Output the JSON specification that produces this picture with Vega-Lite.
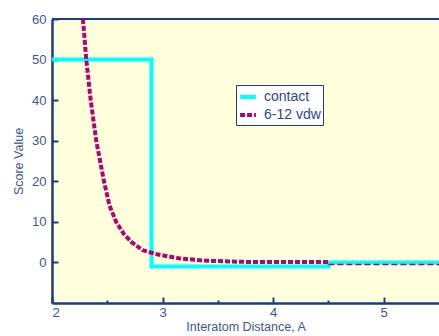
{
  "$schema": "https://vega.github.io/schema/vega-lite/v6.json",
  "autosize": "none",
  "width": 387,
  "height": 284,
  "padding": {"left": 52, "top": 19, "right": 0, "bottom": 33},
  "background": "white",
  "config": {
    "font": "Liberation Sans",
    "view": {"fill": "#ffffdc", "stroke": null},
    "axis": {"domainColor": "#1a3a8f", "domainWidth": 2.5, "tickColor": "#1a3a8f", "tickWidth": 2, "labelColor": "#3a55a5", "titleColor": "#3a55a5", "labelFont": "Liberation Sans", "titleFont": "Liberation Sans", "grid": false, "titleFontWeight": "normal"}
  },
  "datasets": {
    "contact": [
      {"series": "contact", "x": 2.0, "y": 50, "o": 1},
      {"series": "contact", "x": 2.9, "y": 50, "o": 2},
      {"series": "contact", "x": 2.9, "y": -1, "o": 3},
      {"series": "contact", "x": 4.5, "y": -1, "o": 4},
      {"series": "contact", "x": 4.5, "y": 0, "o": 5},
      {"series": "contact", "x": 5.6, "y": 0, "o": 6}
    ],
    "vdw": [
      {"series": "6-12 vdw", "x": 2.28, "y": 60, "o": 1},
      {"series": "6-12 vdw", "x": 2.31, "y": 50, "o": 2},
      {"series": "6-12 vdw", "x": 2.35, "y": 40, "o": 3},
      {"series": "6-12 vdw", "x": 2.40, "y": 30, "o": 4},
      {"series": "6-12 vdw", "x": 2.47, "y": 20, "o": 5},
      {"series": "6-12 vdw", "x": 2.52, "y": 14, "o": 6},
      {"series": "6-12 vdw", "x": 2.58, "y": 10, "o": 7},
      {"series": "6-12 vdw", "x": 2.65, "y": 7, "o": 8},
      {"series": "6-12 vdw", "x": 2.72, "y": 5, "o": 9},
      {"series": "6-12 vdw", "x": 2.82, "y": 3, "o": 10},
      {"series": "6-12 vdw", "x": 2.95, "y": 2, "o": 11},
      {"series": "6-12 vdw", "x": 3.15, "y": 1, "o": 12},
      {"series": "6-12 vdw", "x": 3.4, "y": 0.4, "o": 13},
      {"series": "6-12 vdw", "x": 3.8, "y": 0.1, "o": 14},
      {"series": "6-12 vdw", "x": 4.5, "y": 0.1, "o": 15}
    ],
    "tail": [
      {"x": 4.5, "y": -0.5, "o": 1},
      {"x": 5.6, "y": -0.5, "o": 2}
    ],
    "top": [{"y": 60}]
  },
  "layer": [
    {
      "data": {"name": "contact"},
      "mark": {"type": "line", "strokeWidth": 4, "clip": true},
      "encoding": {
        "x": {"field": "x", "type": "quantitative", "scale": {"domain": [2, 5.5], "nice": false, "zero": false},
          "axis": {"values": [2, 2.5, 3, 3.5, 4, 4.5, 5], "labelExpr": "datum.value % 1 == 0 ? format(datum.value, 'd') : ''", "tickSize": {"condition": {"test": "datum.value % 1 != 0", "value": -3}, "value": -6}, "labelPadding": 9, "labelFontSize": 13, "title": "Interatom Distance, A", "titleFontSize": 12.5, "titlePadding": 1}},
        "y": {"field": "y", "type": "quantitative", "scale": {"domain": [-10, 60], "nice": false, "zero": false},
          "axis": {"values": [0, 10, 20, 30, 40, 50, 60], "tickSize": -6, "labelPadding": 12, "labelFontSize": 13, "title": "Score Value", "titleFontSize": 12.5, "titlePadding": 6}},
        "order": {"field": "o", "type": "quantitative"},
        "color": {"field": "series", "type": "nominal", "scale": {"domain": ["contact", "6-12 vdw"], "range": ["#00ffff", "#b8006e"]},
          "legend": {"title": null, "orient": "none", "legendX": 184, "legendY": 66, "fillColor": "white", "strokeColor": "#1a3a8f", "padding": 2, "labelColor": "#2a45a0", "labelFontSize": 14, "symbolType": "stroke", "symbolStrokeWidth": 4, "symbolSize": 250, "rowPadding": -4, "labelOffset": 6}},
        "strokeDash": {"field": "series", "type": "nominal", "scale": {"domain": ["contact", "6-12 vdw"], "range": [[1, 0], [5, 2]]}, "legend": null}
      }
    },
    {
      "data": {"name": "top"},
      "mark": {"type": "rule", "color": "#1a3a8f", "strokeWidth": 2},
      "encoding": {"y": {"field": "y", "type": "quantitative"}}
    },
    {
      "data": {"name": "tail"},
      "mark": {"type": "line", "strokeWidth": 1.5, "color": "#b8006e", "strokeDash": [6, 3], "clip": true},
      "encoding": {
        "x": {"field": "x", "type": "quantitative"},
        "y": {"field": "y", "type": "quantitative"},
        "order": {"field": "o", "type": "quantitative"}
      }
    },
    {
      "data": {"name": "vdw"},
      "mark": {"type": "line", "strokeWidth": 4, "clip": true},
      "encoding": {
        "x": {"field": "x", "type": "quantitative"},
        "y": {"field": "y", "type": "quantitative"},
        "order": {"field": "o", "type": "quantitative"},
        "color": {"field": "series", "type": "nominal"},
        "strokeDash": {"field": "series", "type": "nominal"}
      }
    }
  ]
}
